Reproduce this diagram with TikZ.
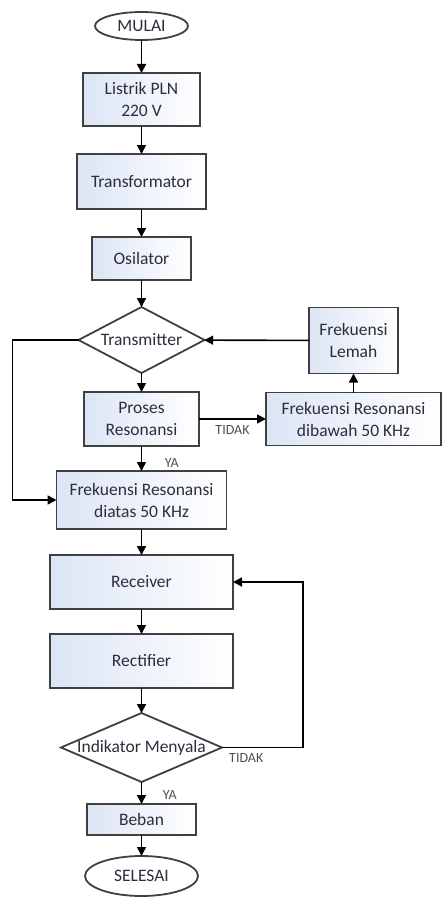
\documentclass[tikz,border=0pt]{standalone}
\usepackage{fontspec}
\setmainfont{Carlito}
\usetikzlibrary{arrows.meta,positioning,shapes.geometric}
\definecolor{boxblue}{RGB}{220,229,245}
\definecolor{txtgray}{RGB}{45,45,60}
\definecolor{lblgray}{RGB}{80,80,80}
\newcommand{\wide}[1]{\makebox[0pt]{#1}}

\begin{document}
\begin{tikzpicture}[
  x=1pt, y=1pt,
  every node/.style={font=\fontsize{17.5}{22}\selectfont, text=txtgray, outer sep=0pt},
  box/.style={draw=black!75, line width=1.8pt, left color=boxblue, right color=white,
              align=center, inner sep=2pt},
  term/.style={ellipse, draw=black!75, line width=1.8pt, fill=white, inner sep=1pt},
  cond/.style={diamond, draw=black!75, line width=1.8pt, fill=white, inner sep=0pt},
  lbl/.style={font=\fontsize{14}{16}\selectfont, text=lblgray},
  arr/.style={-{Triangle[length=9pt,width=9pt]}, line width=1.6pt}
]
\useasboundingbox (0,0) rectangle (444,-899);

% main column
\node[term, minimum width=93pt, minimum height=28pt] (mulai) at (141.5,-26) {MULAI};
\node[box, minimum width=117pt, minimum height=53pt, below=33pt of mulai] (pln) {Listrik PLN\\220 V};
\node[box, minimum width=129pt, minimum height=55pt, below=28pt of pln] (trafo) {Transformator};
\node[box, minimum width=99pt, minimum height=43pt, below=28pt of trafo] (osc) {Osilator};
\node[cond, minimum width=126pt, minimum height=66pt, below=27pt of osc] (tx) {\wide{Transmitter}};
\node[box, minimum width=115pt, minimum height=54pt, below=19pt of tx] (proses) {Proses\\Resonansi};
\node[box, minimum width=170pt, minimum height=58pt, below=25pt of proses] (atas) {Frekuensi Resonansi\\diatas 50 KHz};
\node[box, minimum width=183pt, minimum height=54pt, below=26pt of atas] (rx) {Receiver};
\node[box, minimum width=183pt, minimum height=54pt, below=25pt of rx] (rect) {Rectifier};
\node[cond, minimum width=161pt, minimum height=69pt, below=25pt of rect] (ind) {\wide{Indikator Menyala}};
\node[box, minimum width=109pt, minimum height=31pt, below=22pt of ind] (beban) {Beban};
\node[term, minimum width=113pt, minimum height=40pt, below=21pt of beban] (selesai) {SELESAI};

% right branch
\node[box, minimum width=175pt, minimum height=53pt, right=67pt of proses] (bawah) {Frekuensi Resonansi\\dibawah 50 KHz};
\node[box, minimum width=89pt, minimum height=66pt, above=19pt of bawah] (lemah) {Frekuensi\\Lemah};

\draw[arr] (mulai) -- (pln);
\draw[arr] (pln) -- (trafo);
\draw[arr] (trafo) -- (osc);
\draw[arr] (osc) -- (tx);
\draw[arr] (tx) -- (proses);
\draw[arr] (proses) -- node[lbl, below=3pt, pos=0.5] {TIDAK} (bawah);
\draw[arr] (bawah) -- (lemah);
\draw[arr] (lemah) -- (tx);
\draw[arr] (proses) -- node[lbl, pos=0.7, right=20pt] {YA} (atas);
\draw[arr] (tx.west) -- ++(-66pt,0) |- (atas.west);
\draw[arr] (atas) -- (rx);
\draw[arr] (rx) -- (rect);
\draw[arr] (rect) -- (ind);
\draw[arr] (ind.east) -- node[lbl, below=3pt, pos=0.3] {TIDAK} ++(81pt,0) |- (rx.east);
\draw[arr] (ind) -- node[lbl, pos=0.6, right=18pt] {YA} (beban);
\draw[arr] (beban) -- (selesai);
\end{tikzpicture}
\end{document}
